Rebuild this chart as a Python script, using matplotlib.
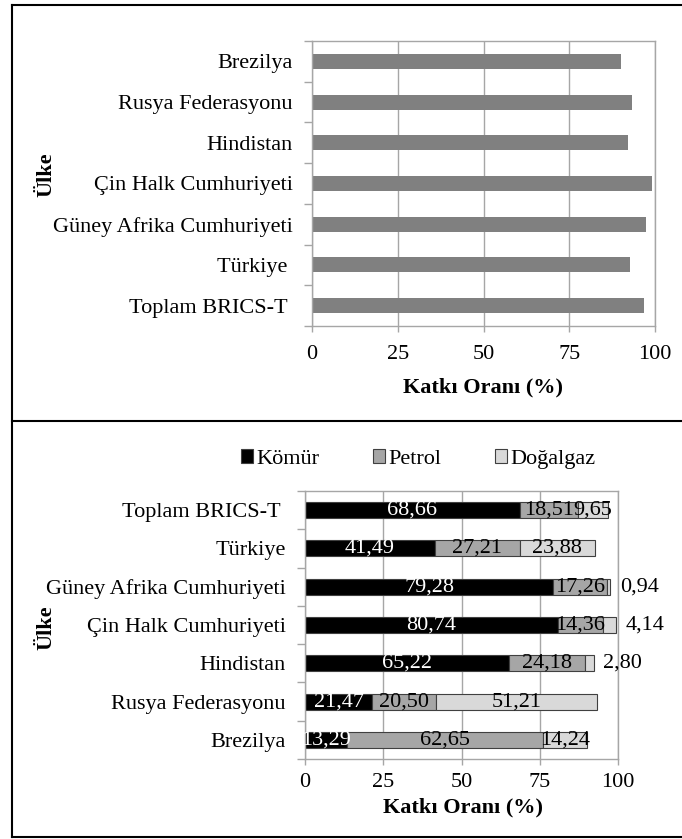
import matplotlib as mplt
mplt.use("Agg")
import matplotlib.pyplot as plt
from matplotlib.lines import Line2D
from matplotlib.patches import Rectangle

plt.rcParams['font.family'] = ['Liberation Serif', 'DejaVu Serif']
plt.rcParams['font.size'] = 16

W, H = 682, 839

# upper panel: total share per country (top to bottom)
countries_top = ["Brezilya", "Rusya Federasyonu", "Hindistan", "Çin Halk Cumhuriyeti",
                 "Güney Afrika Cumhuriyeti", "Türkiye ", "Toplam BRICS-T "]
total_share = [90.18, 93.18, 92.20, 99.24, 97.48, 92.58, 96.82]

# lower panel: share by fuel (top to bottom)
countries_bottom = ["Toplam BRICS-T ", "Türkiye", "Güney Afrika Cumhuriyeti",
                    "Çin Halk Cumhuriyeti", "Hindistan", "Rusya Federasyonu", "Brezilya"]
komur = [68.66, 41.49, 79.28, 80.74, 65.22, 21.47, 13.29]
petrol = [18.51, 27.21, 17.26, 14.36, 24.18, 20.50, 62.65]
dogalgaz = [9.65, 23.88, 0.94, 4.14, 2.80, 51.21, 14.24]
fuel_names = ["Kömür", "Petrol", "Doğalgaz"]

# small gas shares get their label outside the bar
outside_labels = {"Güney Afrika Cumhuriyeti", "Çin Halk Cumhuriyeti", "Hindistan"}

xticks = [0, 25, 50, 75, 100]
GRID = '#a6a6a6'


def px(x, y):
    return x / W, 1 - y / H


def ax_rect(left, top, right, bottom):
    return [left / W, 1 - bottom / H, (right - left) / W, (bottom - top) / H]


def style_axes(ax, labels, xpad):
    n = len(labels)
    ax.set_xlim(0, 100)
    ax.set_ylim(n - 0.5, -0.5)
    ax.set_xticks(xticks)
    ax.set_yticks(range(n))
    ax.set_yticklabels(labels)
    ax.set_yticks([i - 0.5 for i in range(n + 1)], minor=True)
    ax.tick_params(axis='y', which='major', length=0, pad=14)
    ax.tick_params(axis='y', which='minor', length=6, color=GRID, width=1)
    ax.tick_params(axis='x', length=4, color=GRID, width=1, pad=xpad)
    ax.grid(axis='x', color=GRID, linewidth=1)
    ax.set_axisbelow(True)
    for sp in ax.spines.values():
        sp.set_color(GRID)
        sp.set_linewidth(1)


fig = plt.figure(figsize=(W / 100, H / 100), dpi=100)

# --- upper panel ---
ax1 = fig.add_axes(ax_rect(312, 41, 655, 326))
ax1.barh(range(len(countries_top)), total_share, height=0.37, color='#808080')
style_axes(ax1, countries_top, xpad=10)
fig.text(*px(483, 387), "Katkı Oranı (%)", ha='center', va='center', fontweight='bold')
fig.text(*px(46, 175), "Ülke", ha='center', va='center', rotation=90, fontweight='bold')

# --- lower panel ---
ax2 = fig.add_axes(ax_rect(305, 491, 618, 759))
y = list(range(len(countries_bottom)))
colors = ['#000000', '#a6a6a6', '#d9d9d9']
left = [0.0] * len(y)
for vals, col, name in zip([komur, petrol, dogalgaz], colors, fuel_names):
    bars = ax2.barh(y, vals, left=left, height=0.42, color=col,
                    edgecolor='#404040', linewidth=0.8, label=name)
    for i, (b, v) in enumerate(zip(bars, vals)):
        txt = f"{v:.2f}".replace('.', ',')
        if name == "Doğalgaz" and countries_bottom[i] in outside_labels:
            ax2.annotate(txt, (left[i] + v, i), xytext=(7, 0), textcoords='offset points',
                         ha='left', va='center', fontsize=16)
        else:
            ax2.text(left[i] + v / 2, i, txt, ha='center', va='center', fontsize=16,
                     color='white' if name == "Kömür" else 'black')
    left = [l + v for l, v in zip(left, vals)]
style_axes(ax2, countries_bottom, xpad=6)

handles = [Rectangle((0, 0), 1, 1, facecolor=c, edgecolor='#404040', linewidth=0.8) for c in colors]
fig.legend(handles, fuel_names, loc='center', bbox_to_anchor=px(418, 459), ncol=3,
           frameon=False, handlelength=0.55, handleheight=0.55, handletextpad=0.15,
           columnspacing=2.4, borderpad=0)
fig.text(*px(463, 807), "Katkı Oranı (%)", ha='center', va='center', fontweight='bold')
fig.text(*px(46, 628), "Ülke", ha='center', va='center', rotation=90, fontweight='bold')

# panel frames
for xs, ys in [([12, 12], [5, 837]), ([12, W], [5, 5]), ([12, W], [421, 421]), ([12, W], [837, 837])]:
    fig.add_artist(Line2D([x / W for x in xs], [1 - v / H for v in ys], color='black', linewidth=1.5))

fig.savefig("out.png", dpi=100)
